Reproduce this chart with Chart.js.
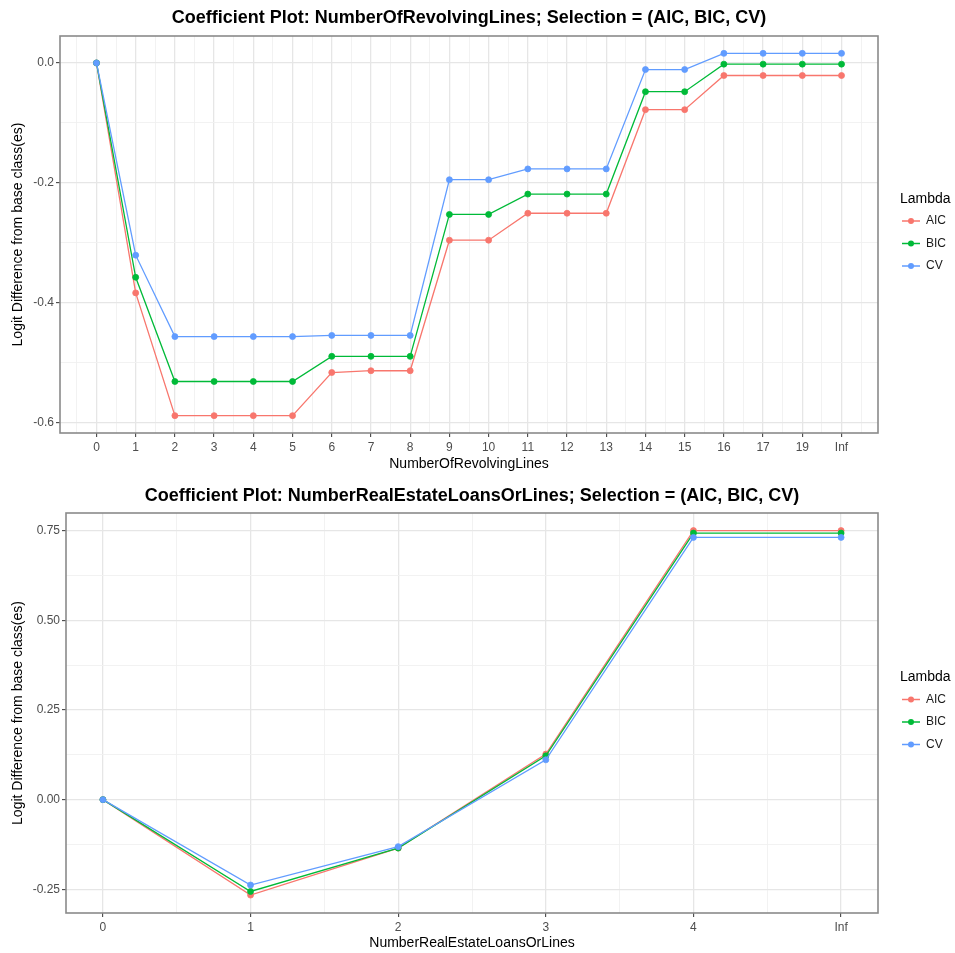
<!DOCTYPE html>
<html>
<head>
<meta charset="utf-8">
<script src="https://cdn.jsdelivr.net/npm/chart.js@4.4.1/dist/chart.umd.min.js"></script>
<style>
  html, body { margin: 0; padding: 0; background: #ffffff; }
  #wrap { position: relative; width: 955px; height: 953px; }
  canvas { position: absolute; left: 0; display: block; }
</style>
</head>
<body>
<div id="wrap">
  <canvas id="revolving" width="955" height="476" style="top:0px"></canvas>
  <canvas id="realEstate" width="955" height="477" style="top:476px"></canvas>
</div>
<script>
// ---- Number of revolving lines ----
const revolvingLevels = ['0','1','2','3','4','5','6','7','8','9','10','11','12','13','14','15','16','17','19','Inf'];
const revolvingAIC = [0, -0.384, -0.589, -0.589, -0.589, -0.589, -0.517, -0.514, -0.514, -0.296, -0.296, -0.251, -0.251, -0.251, -0.078, -0.078, -0.021, -0.021, -0.021, -0.021];
const revolvingBIC = [0, -0.358, -0.532, -0.532, -0.532, -0.532, -0.490, -0.490, -0.490, -0.253, -0.253, -0.219, -0.219, -0.219, -0.048, -0.048, -0.002, -0.002, -0.002, -0.002];
const revolvingCV  = [0, -0.321, -0.457, -0.457, -0.457, -0.457, -0.455, -0.455, -0.455, -0.195, -0.195, -0.177, -0.177, -0.177, -0.011, -0.011, 0.016, 0.016, 0.016, 0.016];
const revolvingYTicks = [-0.6, -0.4, -0.2, 0.0];
const revolvingYLabels = ['-0.6', '-0.4', '-0.2', '0.0'];

// ---- Number of real estate loans or lines ----
const realEstateLevels = ['0','1','2','3','4','Inf'];
const realEstateAIC = [0, -0.266, -0.135, 0.127, 0.750, 0.750];
const realEstateBIC = [0, -0.256, -0.135, 0.122, 0.743, 0.743];
const realEstateCV  = [0, -0.238, -0.131, 0.111, 0.731, 0.731];
const realEstateYTicks = [-0.25, 0.00, 0.25, 0.50, 0.75];
const realEstateYLabels = ['-0.25', '0.00', '0.25', '0.50', '0.75'];

const lambdaColors = { AIC: '#F8766D', BIC: '#00BA38', CV: '#619CFF' };
const FONT = '"Liberation Sans", Arial, Helvetica, sans-serif';
Chart.defaults.font.family = FONT;

// Panel border, centred title and the "Lambda" legend
const panelDecor = {
  id: 'panelDecor',
  afterDraw(chart, args, opts) {
    const { ctx, chartArea: a } = chart;
    ctx.save();
    ctx.strokeStyle = '#8a8a8a';
    ctx.lineWidth = 1.6;
    ctx.strokeRect(a.left, a.top, a.right - a.left, a.bottom - a.top);

    ctx.fillStyle = '#000000';
    ctx.font = 'bold 18px ' + FONT;
    ctx.textAlign = 'center';
    ctx.textBaseline = 'middle';
    ctx.fillText(opts.title, (a.left + a.right) / 2, opts.titleY);

    const cy = (a.top + a.bottom) / 2;
    ctx.textAlign = 'left';
    ctx.font = '14px ' + FONT;
    ctx.fillText(opts.legendTitle, 900, cy - 35.5);
    ctx.font = '12px ' + FONT;
    chart.data.datasets.forEach((ds, i) => {
      const y = cy - 13.5 + i * 22.5;
      ctx.strokeStyle = ds.borderColor;
      ctx.lineWidth = 1.5;
      ctx.beginPath();
      ctx.moveTo(902, y);
      ctx.lineTo(920, y);
      ctx.stroke();
      ctx.fillStyle = ds.borderColor;
      ctx.beginPath();
      ctx.arc(911, y, 3, 0, Math.PI * 2);
      ctx.fill();
      ctx.fillStyle = '#1a1a1a';
      ctx.fillText(ds.label, 926, y);
    });
    ctx.restore();
  }
};

function lambdaSeries(name, values, order) {
  return {
    label: name,
    data: values.map((v, i) => ({ x: i, y: v })),
    borderColor: lambdaColors[name],
    backgroundColor: lambdaColors[name],
    borderWidth: 1.3,
    pointRadius: 3,
    pointHoverRadius: 3,
    pointBorderWidth: 0.8,
    tension: 0,
    order: order
  };
}

function gridStyle() {
  return {
    drawTicks: true,
    tickLength: 4,
    tickWidth: 1,
    tickColor: (c) => (c.tick && c.tick.isMinor) ? 'rgba(0,0,0,0)' : '#333333',
    color: (c) => (c.tick && c.tick.isMinor) ? '#f0f0f0' : '#e6e6e6',
    lineWidth: (c) => (c.tick && c.tick.isMinor) ? 0.9 : 1.3
  };
}

function buildPanel(id, cfg) {
  const n = cfg.levels.length;
  return new Chart(document.getElementById(id), {
    type: 'line',
    data: {
      datasets: [
        lambdaSeries('AIC', cfg.aic, 2),
        lambdaSeries('BIC', cfg.bic, 1),
        lambdaSeries('CV', cfg.cv, 0)
      ]
    },
    options: {
      responsive: false,
      animation: false,
      events: [],
      layout: { padding: { top: cfg.padTop, right: 77, left: 0, bottom: 0 } },
      plugins: {
        legend: { display: false },
        title: { display: false },
        tooltip: { enabled: false },
        panelDecor: { title: cfg.title, titleY: cfg.titleY, legendTitle: 'Lambda' }
      },
      scales: {
        x: {
          type: 'linear',
          min: cfg.xMin,
          max: cfg.xMax,
          border: { display: false },
          grid: gridStyle(),
          afterFit: (s) => { s.height = cfg.xAxisHeight; },
          afterBuildTicks: (s) => {
            const t = [];
            for (let k = -1; k <= 2 * n - 1; k++) {
              const v = k / 2;
              if (v >= cfg.xMin && v <= cfg.xMax) t.push({ value: v, isMinor: k % 2 !== 0 });
            }
            s.ticks = t;
          },
          ticks: {
            autoSkip: false,
            maxRotation: 0,
            padding: 3,
            color: '#4d4d4d',
            font: { size: 12 },
            callback: (v) => Number.isInteger(v) ? cfg.levels[v] : ''
          },
          title: {
            display: true,
            text: cfg.xTitle,
            color: '#000000',
            font: { size: 14 },
            padding: { top: 0, bottom: cfg.xTitlePad }
          }
        },
        y: {
          type: 'linear',
          min: cfg.yMin,
          max: cfg.yMax,
          border: { display: false },
          grid: gridStyle(),
          afterFit: (s) => { s.width = cfg.yAxisWidth; },
          afterBuildTicks: (s) => {
            const t = [];
            cfg.yTicks.forEach((v, i) => {
              t.push({ value: v, isMinor: false, text: cfg.yLabels[i] });
              if (i < cfg.yTicks.length - 1) {
                t.push({ value: (v + cfg.yTicks[i + 1]) / 2, isMinor: true, text: '' });
              }
            });
            s.ticks = t;
          },
          ticks: {
            autoSkip: false,
            padding: 2,
            color: '#4d4d4d',
            font: { size: 12 },
            callback: (v, i, ticks) => ticks[i].text
          },
          title: {
            display: true,
            text: 'Logit Difference from base class(es)',
            color: '#000000',
            font: { size: 14 },
            padding: { top: 10, bottom: 0 }
          }
        }
      }
    },
    plugins: [panelDecor]
  });
}

buildPanel('revolving', {
  levels: revolvingLevels,
  aic: revolvingAIC, bic: revolvingBIC, cv: revolvingCV,
  yTicks: revolvingYTicks, yLabels: revolvingYLabels,
  xMin: -0.93, xMax: 19.93, yMin: -0.618, yMax: 0.045,
  title: 'Coefficient Plot: NumberOfRevolvingLines; Selection = (AIC, BIC, CV)',
  titleY: 18.5,
  xTitle: 'NumberOfRevolvingLines',
  padTop: 36, xAxisHeight: 43, yAxisWidth: 60, xTitlePad: 3
});

buildPanel('realEstate', {
  levels: realEstateLevels,
  aic: realEstateAIC, bic: realEstateBIC, cv: realEstateCV,
  yTicks: realEstateYTicks, yLabels: realEstateYLabels,
  xMin: -0.25, xMax: 5.25, yMin: -0.316, yMax: 0.799,
  title: 'Coefficient Plot: NumberRealEstateLoansOrLines; Selection = (AIC, BIC, CV)',
  titleY: 20,
  xTitle: 'NumberRealEstateLoansOrLines',
  padTop: 37, xAxisHeight: 40, yAxisWidth: 66, xTitlePad: 1
});
</script>
</body>
</html>
